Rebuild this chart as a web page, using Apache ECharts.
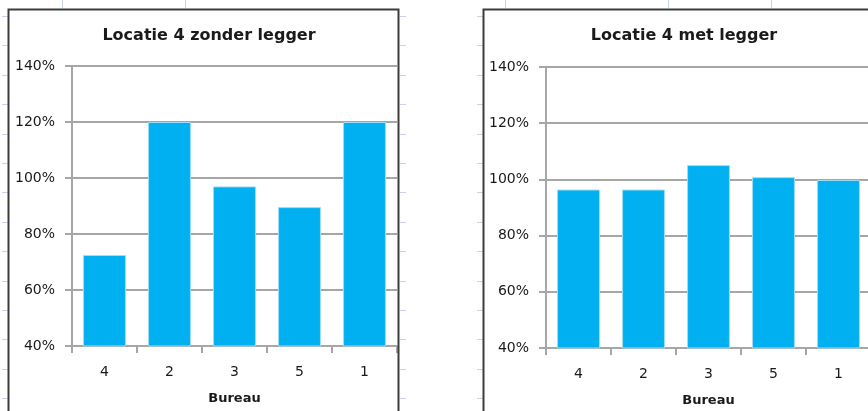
<!DOCTYPE html>
<html>
<head>
<meta charset="utf-8">
<script src="https://cdn.jsdelivr.net/npm/echarts@6/dist/echarts.min.js"></script>
<style>
  html, body { margin: 0; padding: 0; background: #fff; }
  #chart { width: 868px; height: 411px; }
</style>
</head>
<body>
<div id="chart"></div>
<script>
// Bureau order as shown on the category axis
const bureaus = ['4', '2', '3', '5', '1'];
// Ratio per bureau in percent, location 4 without and with legger
const zonderLegger = [72.5, 120, 97, 89.6, 120];
const metLegger = [96.4, 96.4, 105.1, 100.8, 99.8];
// Value axis range and step (percent)
const yMin = 40, yMax = 140, yStep = 20;
const titles = ['Locatie 4 zonder legger', 'Locatie 4 met legger'];
const axisName = 'Bureau';

const FONT = 'DejaVu Sans';
const TEXT = '#1a1a1a';
const GRID_GREY = '#a6a6a6';
const BAR_BLUE = '#00b0f0';

const chart = echarts.init(document.getElementById('chart'), null, { renderer: 'canvas' });

// Panel geometry (plot areas and outer frames)
const grids = [
  { left: 72, top: 66, width: 325, height: 280, outerBoundsMode: 'none', containLabel: false },
  { left: 546, top: 67, width: 325, height: 281, outerBoundsMode: 'none', containLabel: false }
];
const frames = [
  { x: 8.5, y: 9.5, width: 390, height: 430 },
  { x: 483.5, y: 9.5, width: 400, height: 430 }
];
const titleCenters = [204, 679];

function yAxis(i) {
  return {
    type: 'value', gridIndex: i, min: yMin, max: yMax, interval: yStep,
    axisLine: { show: true, lineStyle: { color: GRID_GREY, width: 2 } },
    axisTick: { show: true, inside: false, length: 7, lineStyle: { color: GRID_GREY, width: 2 } },
    splitLine: { show: true, lineStyle: { color: GRID_GREY, width: 2 } },
    axisLabel: { formatter: '{value}%', color: TEXT, fontFamily: FONT, fontSize: 14, margin: 17 }
  };
}
function xAxis(i) {
  return {
    type: 'category', gridIndex: i, data: bureaus,
    name: axisName, nameLocation: 'middle', nameGap: 46,
    nameTextStyle: { color: TEXT, fontFamily: FONT, fontSize: 13, fontWeight: 'bold' },
    axisLine: { show: true, lineStyle: { color: GRID_GREY, width: 2 } },
    axisTick: { show: true, alignWithLabel: false, length: 7, lineStyle: { color: GRID_GREY, width: 2 } },
    axisLabel: { color: TEXT, fontFamily: FONT, fontSize: 14, margin: 19 }
  };
}
function barSeries(i, data) {
  return {
    type: 'bar', xAxisIndex: i, yAxisIndex: i, data: data,
    barCategoryGap: '34%',
    itemStyle: { color: BAR_BLUE, borderColor: '#9edcf5', borderWidth: 1 },
    silent: true
  };
}

// Faint worksheet cell marks around the chart frames
const sheetMarks = [];
for (let y = 16; y < 411; y += 29.4) {
  [[2, 8], [400, 406], [477, 483]].forEach(([x1, x2]) => {
    sheetMarks.push({
      type: 'line', silent: true,
      shape: { x1: x1, y1: Math.round(y) + 0.5, x2: x2, y2: Math.round(y) + 0.5 },
      style: { stroke: '#c9d3e6', lineWidth: 1 }
    });
  });
}
[62, 185, 505, 668, 771].forEach(x => {
  sheetMarks.push({
    type: 'line', silent: true,
    shape: { x1: x + 0.5, y1: 0, x2: x + 0.5, y2: 8 },
    style: { stroke: '#c9d3e6', lineWidth: 1 }
  });
});

chart.setOption({
  animation: false,
  backgroundColor: '#ffffff',
  title: titles.map((t, i) => ({
    text: t,
    left: titleCenters[i],
    top: 23,
    textAlign: 'center',
    textStyle: { color: TEXT, fontFamily: FONT, fontSize: 16, fontWeight: 'bold' }
  })),
  grid: grids,
  xAxis: [xAxis(0), xAxis(1)],
  yAxis: [yAxis(0), yAxis(1)],
  series: [barSeries(0, zonderLegger), barSeries(1, metLegger)],
  graphic: sheetMarks.concat(frames.map(f => ({
    type: 'rect', silent: true, z: 100,
    shape: { x: f.x, y: f.y, width: f.width, height: f.height },
    style: { fill: 'none', stroke: '#3c3c3c', lineWidth: 2 }
  })))
});
</script>
</body>
</html>
